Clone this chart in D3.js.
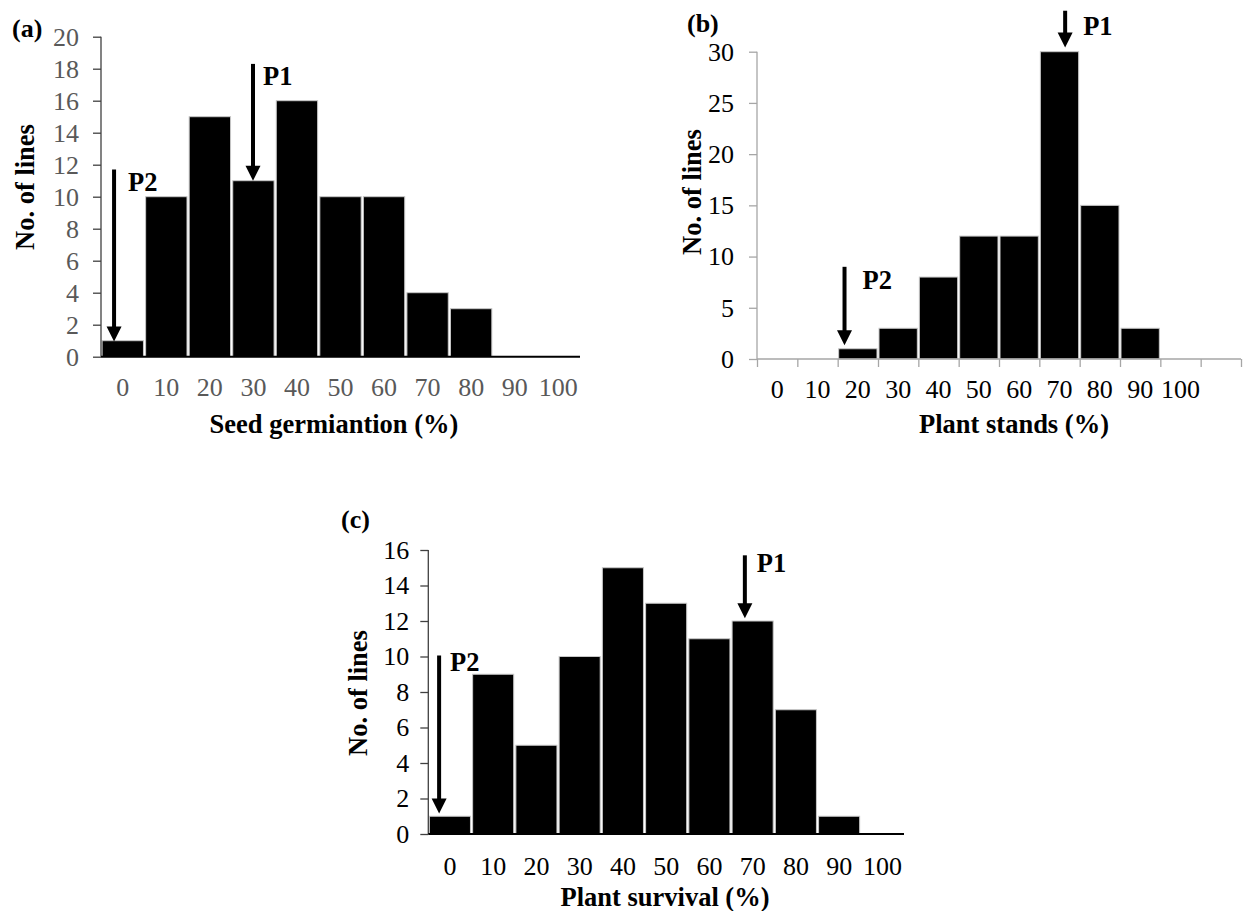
<!DOCTYPE html>
<html><head><meta charset="utf-8">
<script src="https://cdn.jsdelivr.net/npm/d3@7"></script>
<style>
body{margin:0;background:#fff}
svg{display:block}
text{font-family:"Liberation Serif","Times New Roman",serif}
</style>
</head><body>
<svg id="chart" width="1243" height="911"></svg>
<script>
// ---------- data ----------
const catsA = ["0","10","20","30","40","50","60","70","80","90","100"];
const valsA = [1,10,15,11,16,10,10,4,3,0,0];
const yTicksA = [0,2,4,6,8,10,12,14,16,18,20];
const arrowsA = [
  {label:"P2", cat:"0",  pos:0.30, from:11.7, to:0.95},
  {label:"P1", cat:"30", pos:0.49, from:18.3, to:11}
];

const catsB = ["0","10","20","30","40","50","60","70","80","90","100",""];
const valsB = [0,0,1,3,8,12,12,30,15,3,0,0];
const yTicksB = [0,5,10,15,20,25,30];
const arrowsB = [
  {label:"P2", cat:"20", pos:0.17, from:9.0, to:1.35},
  {label:"P1", cat:"70", pos:0.64, from:34.0, to:30.4}
];

const catsC = ["0","10","20","30","40","50","60","70","80","90","100"];
const valsC = [1,9,5,10,15,13,11,12,7,1,0];
const yTicksC = [0,2,4,6,8,10,12,14,16];
const arrowsC = [
  {label:"P2", cat:"0",  pos:0.25, from:10.05, to:1.15},
  {label:"P1", cat:"70", pos:0.32, from:15.7, to:12.15}
];

// ---------- layout / style ----------
const panels = [
  {cats:catsA, vals:valsA, yTicks:yTicksA, yMax:20, arrows:arrowsA,
   x0:101, x1:580, yTop:36.7, yBot:356.7,
   tickColor:"#595959", yAxisColor:"#404040", xAxisColor:"#000", xAxisW:2, xBoundaryTicks:false,
   yPad:14, xPad:21,
   tag:"(a)", tagX:12, tagY:37,
   xTitle:"Seed germiantion (%)", xTitleX:334, xTitleY:433,
   yTitleX:34, yTitleY:187,
   labelOff:[{dx:14,dy:12},{dx:10,dy:12}]},
  {cats:catsB, vals:valsB, yTicks:yTicksB, yMax:30, arrows:arrowsB,
   x0:757, x1:1241, yTop:51.7, yBot:359,
   tickColor:"#000", yAxisColor:"#a6a6a6", xAxisColor:"#a6a6a6", xAxisW:1.3, xBoundaryTicks:true,
   yPad:15, xPad:21,
   tag:"(b)", tagX:687, tagY:32,
   xTitle:"Plant stands (%)", xTitleX:1014, xTitleY:433,
   yTitleX:701, yTitleY:192,
   labelOff:[{dx:18,dy:13},{dx:18,dy:15}]},
  {cats:catsC, vals:valsC, yTicks:yTicksC, yMax:16, arrows:arrowsC,
   x0:428.3, x1:904, yTop:550, yBot:834,
   tickColor:"#000", yAxisColor:"#404040", xAxisColor:"#000", xAxisW:2, xBoundaryTicks:false,
   yPad:11, xPad:23,
   tag:"(c)", tagX:341, tagY:528,
   xTitle:"Plant survival (%)", xTitleX:665, xTitleY:906,
   yTitleX:367, yTitleY:693,
   labelOff:[{dx:11,dy:6},{dx:12,dy:7}]}
];

const svg = d3.select("#chart");

function drawPanel(p){
  const g = svg.append("g");
  const x = d3.scaleBand().domain(p.cats).range([p.x0, p.x1]).paddingInner(0.05).paddingOuter(0.025);
  const y = d3.scaleLinear().domain([0, p.yMax]).range([p.yBot, p.yTop]);

  // bars
  g.selectAll("rect.bar").data(p.cats.map((c,i)=>({c, v:p.vals[i]})).filter(d=>d.v>0))
    .enter().append("rect")
    .attr("x", d=>x(d.c)).attr("width", x.bandwidth())
    .attr("y", d=>y(d.v)).attr("height", d=>y(0)-y(d.v))
    .attr("fill","#000").attr("stroke","#c8c8c8").attr("stroke-width",1);

  // y axis
  const ya = g.append("g").attr("transform",`translate(${p.x0},0)`)
    .call(d3.axisLeft(y).tickValues(p.yTicks).tickSize(8).tickPadding(p.yPad).tickFormat(d3.format("d")));
  ya.select(".domain").attr("stroke", p.yAxisColor).attr("stroke-width",1.3).attr("d",`M0,${p.yTop}V${p.yBot}`);
  ya.selectAll(".tick line").attr("stroke", p.yAxisColor).attr("stroke-width",1.3);
  ya.selectAll(".tick text").attr("fill", p.tickColor).style("font-size","26px").style("font-family","Liberation Serif, serif");

  // x axis labels
  const xa = g.append("g").attr("transform",`translate(0,${p.yBot})`)
    .call(d3.axisBottom(x).tickSize(0).tickPadding(p.xPad));
  xa.select(".domain").remove();
  xa.selectAll(".tick text").attr("fill", p.tickColor).style("font-size","26px").style("font-family","Liberation Serif, serif");

  // x axis line
  g.append("line").attr("x1",p.x0).attr("x2",p.x1).attr("y1",y(0)).attr("y2",y(0))
    .attr("stroke",p.xAxisColor).attr("stroke-width",p.xAxisW);

  if(p.xBoundaryTicks){
    const bi = d3.scaleLinear().domain([0,p.cats.length]).range([p.x0,p.x1]);
    g.append("g").attr("transform",`translate(0,${p.yBot})`)
      .call(d3.axisBottom(bi).tickValues(d3.range(p.cats.length+1)).tickSize(8).tickFormat(""))
      .call(s=>{s.select(".domain").remove(); s.selectAll("line").attr("stroke",p.xAxisColor).attr("stroke-width",1.3);});
  }

  // arrows
  p.arrows.forEach((a,i)=>{
    const ax = x(a.cat) - x.step()*x.paddingInner()/2 + x.step()*a.pos;
    const yTop = y(a.from), yTip = y(a.to);
    const hh = 15, hw = 7.5;
    g.append("line").attr("x1",ax).attr("x2",ax).attr("y1",yTop).attr("y2",yTip-hh+2)
      .attr("stroke","#000").attr("stroke-width",4);
    g.append("path").attr("d",`M${ax-hw},${yTip-hh}L${ax+hw},${yTip-hh}L${ax},${yTip}Z`).attr("fill","#000");
    const off = p.labelOff[i];
    g.append("text").attr("x",ax+off.dx).attr("y",yTop+off.dy).attr("dy","0.35em")
      .style("font-size","26.5px").style("font-weight","bold").text(a.label);
  });

  // titles
  g.append("text").attr("x",p.tagX).attr("y",p.tagY).style("font-size","26px").style("font-weight","bold").text(p.tag);
  g.append("text").attr("x",p.xTitleX).attr("y",p.xTitleY).attr("text-anchor","middle")
    .style("font-size","26.5px").style("font-weight","bold").text(p.xTitle);
  g.append("text").attr("transform",`translate(${p.yTitleX},${p.yTitleY}) rotate(-90)`).attr("text-anchor","middle")
    .style("font-size","26.5px").style("font-weight","bold").text("No. of lines");
}

panels.forEach(drawPanel);
</script>
</body></html>
